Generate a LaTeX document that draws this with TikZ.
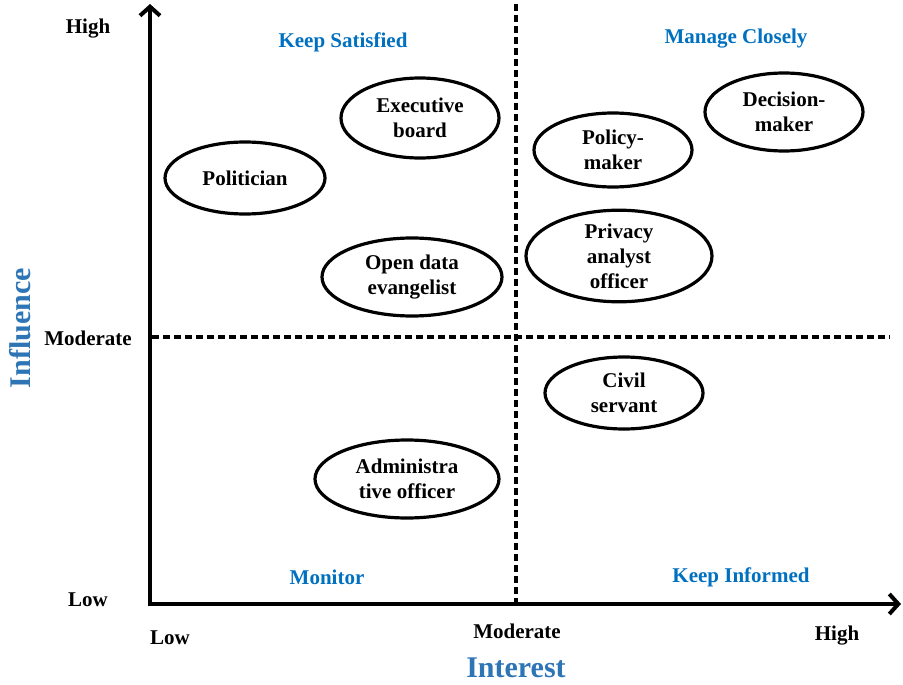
\documentclass[tikz,border=0pt]{standalone}
\usepackage{fontspec}
\setmainfont{Liberation Serif}
\usepackage{tikz}
\usetikzlibrary{arrows.meta, shapes.geometric}
\definecolor{axisblue}{RGB}{46,117,182}
\definecolor{quadblue}{RGB}{0,112,192}
\tikzset{
    party/.style={ellipse, draw, line width=3.2pt, inner sep=0pt, align=center,
        font=\bfseries\fontsize{21}{25}\selectfont},
    level/.style={font=\bfseries\fontsize{21}{25}\selectfont},
    quadrant/.style={text=quadblue, font=\bfseries\fontsize{21}{25}\selectfont},
    axistitle/.style={text=axisblue, font=\bfseries\fontsize{30}{34}\selectfont},
    divider/.style={line width=3.6pt, dash pattern=on 7pt off 4pt},
}

\begin{document}
\begin{tikzpicture}[x=1pt, y=-1pt]
        \useasboundingbox (0,0) rectangle (903,685);

        % axes
        \coordinate (origin) at (150,604);
        \coordinate (ytop) at (150,4);
        \coordinate (xend) at (901,604);
        \draw[line width=4.5pt, -{Straight Barb[length=9pt, width=20pt, line width=4pt]}] (150,606) -- (ytop);
        \draw[line width=4.5pt, -{Straight Barb[length=9pt, width=20pt, line width=4pt]}] (148,604) -- (xend);

        % quadrant lines
        \coordinate (vtop) at (516,4);
        \coordinate (vbot) at (516,602);
        \coordinate (hleft) at (152,337);
        \coordinate (hright) at (890,337);
        \draw[divider] (vtop) -- (vbot);
        \draw[divider] (hleft) -- (hright);

        % levels
        \node[level] (yhigh) at (88,29) {High};
        \node[level] (ymod) at (88,338) {Moderate};
        \node[level] (ylow) at (88,600) {Low};
        \node[level] (xlow) at (170,638) {Low};
        \node[level] (xmod) at (517,631) {Moderate};
        \node[level] (xhigh) at (837,636) {High};

        % axis titles
        \node[axistitle] (interest) at (516,668) {Interest};
        \node[axistitle, rotate=90] (influence) at (20,328) {Influence};

        % quadrants
        \node[quadrant] (satisfied) at (343,42) {Keep Satisfied};
        \node[quadrant] (closely) at (736,39) {Manage Closely};
        \node[quadrant] (monitor) at (327,577) {Monitor};
        \node[quadrant] (informed) at (741,577) {Keep Informed};

        % stakeholders
        \node[party, minimum width=158pt, minimum height=80pt] (board) at (420,118) {Executive\\board};
        \node[party, minimum width=160pt, minimum height=72pt] (politician) at (245,178) {Politician};
        \node[party, minimum width=180pt, minimum height=78pt] (evangelist) at (412,277) {Open data\\evangelist};
        \node[party, minimum width=158pt, minimum height=74pt] (policy) at (613,150) {Policy-\\maker};
        \node[party, minimum width=158pt, minimum height=78pt] (decision) at (784,112) {Decision-\\maker};
        \node[party, minimum width=186pt, minimum height=80pt] (privacy) at (619,256) {Privacy\\analyst\\officer};
        \node[party, minimum width=158pt, minimum height=72pt] (civil) at (624,393) {Civil\\servant};
        \node[party, minimum width=184pt, minimum height=78pt] (admin) at (407,479) {Administra\\tive officer};
    \end{tikzpicture}
\end{document}
